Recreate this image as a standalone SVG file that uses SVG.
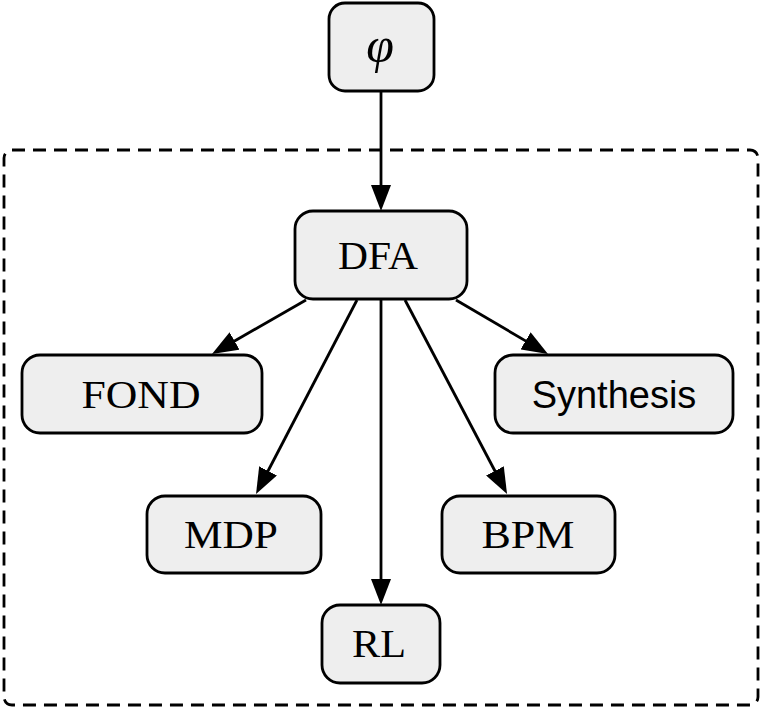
<svg xmlns="http://www.w3.org/2000/svg" width="761" height="708" viewBox="0 0 761 708">
<defs>
<style>
.box{fill:#eeeeee;stroke:#000;stroke-width:2.8}
.cm{font-family:"Liberation Serif","Times New Roman",serif;font-size:39px;fill:#000;text-anchor:middle}
.sans{font-family:"Liberation Sans",Arial,sans-serif;font-size:38px;fill:#000;text-anchor:middle}
.edge{stroke:#000;stroke-width:2.8;fill:none;marker-end:url(#arr)}
</style>
<marker id="arr" viewBox="0 0 26 20" refX="4" refY="10" markerWidth="26" markerHeight="20" markerUnits="userSpaceOnUse" orient="auto">
<path d="M0,0 L26,10 L0,20 z" fill="#000"/>
</marker>
</defs>
<rect width="761" height="708" fill="#fff"/>
<rect id="cluster" x="4" y="150" width="754" height="555" rx="8" fill="none" stroke="#000" stroke-width="2.8" stroke-dasharray="13,8"/>
<g id="connectors">
<line class="edge" x1="381" y1="91" x2="381" y2="189"/>
<line class="edge" x1="306" y1="300" x2="231.1" y2="343"/>
<line class="edge" x1="357" y1="300" x2="266.2" y2="474.5"/>
<line class="edge" x1="381" y1="299" x2="381" y2="583"/>
<line class="edge" x1="405" y1="300" x2="496.8" y2="474.5"/>
<line class="edge" x1="456" y1="300" x2="529" y2="342.9"/>
</g>
<g id="phi">
<rect class="box" x="329" y="3" width="105" height="88" rx="16"/>
<text x="380" y="62" font-family="Liberation Serif,serif" font-style="italic" font-size="50" text-anchor="middle">φ</text>
</g>
<g id="DFA">
<rect class="box" x="295" y="211" width="172" height="88" rx="18"/>
<text class="cm" x="378" y="269" textLength="80" lengthAdjust="spacingAndGlyphs">DFA</text>
</g>
<g id="FOND">
<rect class="box" x="22" y="355" width="240" height="78" rx="18"/>
<text class="cm" x="141" y="408" textLength="119" lengthAdjust="spacingAndGlyphs">FOND</text>
</g>
<g id="Synthesis">
<rect class="box" x="495" y="355" width="238" height="78" rx="18"/>
<text class="sans" x="614" y="408">Synthesis</text>
</g>
<g id="MDP">
<rect class="box" x="147" y="496" width="174" height="77" rx="18"/>
<text class="cm" x="231" y="548" textLength="94" lengthAdjust="spacingAndGlyphs">MDP</text>
</g>
<g id="BPM">
<rect class="box" x="442" y="496" width="173" height="77" rx="18"/>
<text class="cm" x="528" y="548" textLength="93" lengthAdjust="spacingAndGlyphs">BPM</text>
</g>
<g id="RL">
<rect class="box" x="322" y="605" width="118" height="78" rx="18"/>
<text class="cm" x="379" y="657" textLength="54" lengthAdjust="spacingAndGlyphs">RL</text>
</g>
</svg>
